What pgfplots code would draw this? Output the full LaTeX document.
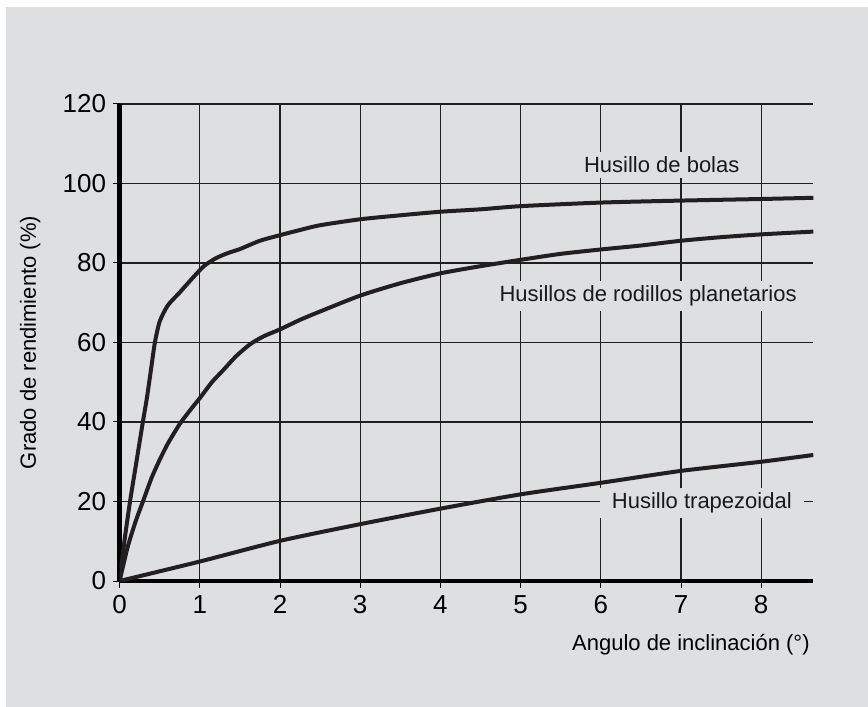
\documentclass[border=0pt]{standalone}
\usepackage{fontspec}
\setmainfont{Liberation Sans}
\usepackage{pgfplots}
\pgfplotsset{compat=1.18}
\definecolor{bgc}{HTML}{DEDFE1}
\definecolor{crv}{HTML}{231F20}
\begin{document}
\begin{tikzpicture}
\fill[white] (0,0) rectangle (868bp,707bp);
\fill[bgc] (6bp,0) rectangle (868bp,700bp);
\useasboundingbox (0,0) rectangle (868bp,707bp);
\begin{axis}[
  at={(119.6bp,126bp)}, anchor=origin,
  x=80.2bp, y=3.975bp,
  xmin=0, xmax=8.65, ymin=0, ymax=120,
  axis lines=left,
  x axis line style={-, line width=4bp, black},
  y axis line style={-, line width=4.5bp, black},
  xtick={0,1,...,8}, ytick={0,20,...,120},
  tick align=outside, major tick length=7bp,
  tick style={black, line width=1bp},
  xmajorgrids, ymajorgrids,
  grid style={line width=1.2bp, black!88},
  /pgf/number format/assume math mode=true,
  ticklabel style={font=\fontsize{26bp}{30bp}\selectfont, text=black},
  xticklabel style={yshift=-4bp},
  yticklabel style={xshift=-3bp},
  xlabel={Angulo de inclinación (°)},
  ylabel={Grado de rendimiento (\%)},
  label style={font=\fontsize{22bp}{26bp}\selectfont},
  xlabel style={at={(axis description cs:0.995,-0.134)}, anchor=east, inner sep=0pt},
  ylabel style={at={(axis description cs:-0.129,0.5)}, anchor=center, rotate=0, inner sep=0pt},
  clip=true,
]
\addplot[crv, line width=4bp, smooth, tension=0.4] coordinates {
(0,0) (0.06,10) (0.13,20) (0.21,30) (0.29,40) (0.34,46) (0.39,53) (0.44,60) (0.5,65.3) (0.6,69.3) (0.75,72.6) (0.9,76) (1.05,79.2) (1.2,81.2) (1.35,82.5) (1.5,83.5) (1.75,85.6) (2.0,87.0) (2.25,88.3) (2.5,89.5) (3,91) (3.5,92) (4,92.9) (4.5,93.5) (5,94.3) (6,95.2) (7,95.7) (8,96.1) (8.65,96.4)
};
\addplot[crv, line width=4bp, smooth, tension=0.4] coordinates {
(0,0) (0.1,8.5) (0.2,15) (0.3,20.5) (0.4,26) (0.5,30.5) (0.6,34.5) (0.75,39.5) (0.9,43.5) (1.0,46) (1.15,50) (1.29,53) (1.45,56.5) (1.63,59.6) (1.8,61.6) (2.0,63.3) (2.25,65.7) (2.5,67.8) (3,71.8) (3.5,74.9) (4,77.4) (4.5,79.2) (5,80.8) (5.5,82.3) (6,83.4) (6.5,84.4) (7,85.6) (7.5,86.5) (8,87.2) (8.65,87.9)
};
\addplot[crv, line width=4bp, smooth, tension=0.4] coordinates {
(0,0) (1,4.9) (2,10.1) (3,14.3) (4,18.2) (5,21.8) (6,24.7) (7,27.7) (8,30.0) (8.65,31.7)
};
\begin{scope}[every node/.style={font=\fontsize{22bp}{26bp}\selectfont, fill=bgc, inner xsep=12bp, inner ysep=5bp, text=black!90}]
\node at (axis cs:6.76,104.7) {Husillo de bolas};
\node at (axis cs:6.59,71.7) {Husillos de rodillos planetarios};
\node at (axis cs:7.26,19.6) {Husillo trapezoidal};
\end{scope}
\end{axis}
\end{tikzpicture}
\end{document}
